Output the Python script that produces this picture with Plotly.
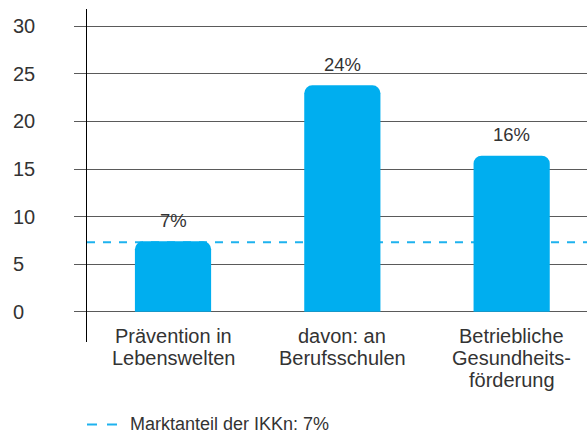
import plotly.graph_objects as go

# Share of IKK spending per field of prevention (percent)
categories = ["Prävention in<br>Lebenswelten", "davon: an<br>Berufsschulen", "Betriebliche<br>Gesundheits-<br>förderung"]
shares = [7.4, 23.8, 16.4]
market_share = 7.3
y_ticks = [0, 5, 10, 15, 20, 25, 30]

BAR_COLOR = "#00AEEF"
DASH_COLOR = "#1EB2EE"
GRID_COLOR = "#5a5a5a"
TEXT_COLOR = "#333333"
FONT = "Liberation Sans, Arial, Helvetica, sans-serif"
legend_label = f"Marktanteil der IKKn: {market_share:.0f}%"

fig = go.Figure()
fig.add_trace(go.Bar(
    x=categories, y=shares, width=0.45,
    marker=dict(color=BAR_COLOR, line=dict(width=0)),
    showlegend=False, hoverinfo="skip",
))

# IKK market share reference line
fig.add_shape(
    type="line", xref="paper", x0=0, x1=1, yref="y",
    y0=market_share, y1=market_share,
    line=dict(color=DASH_COLOR, width=2, dash="8px,8px"),
    layer="between",
)

# legend key for the reference line, below the chart
fig.add_shape(
    type="line", xref="paper", yref="paper",
    x0=0, x1=0.062, y0=-0.248, y1=-0.248,
    line=dict(color=DASH_COLOR, width=2, dash="10px,10px"),
)

annotations = [dict(
    x=0.082, y=-0.2455, xref="paper", yref="paper", text=legend_label,
    showarrow=False, xanchor="left", yanchor="middle",
    font=dict(size=18, color=TEXT_COLOR, family=FONT),
)]
# value labels above the bars
for cat, val in zip(categories, shares):
    annotations.append(dict(
        x=cat, y=val, xref="x", yref="y", text=f"{val:.0f}%",
        showarrow=False, yanchor="middle", yshift=21,
        font=dict(size=18.5, color=TEXT_COLOR, family=FONT),
    ))
# category labels below the baseline, one annotation per line
for cat in categories:
    for i, line in enumerate(cat.split("<br>")):
        annotations.append(dict(
            x=cat, y=0, xref="x", yref="y", text=line,
            showarrow=False, yanchor="middle", yshift=-24 - 22 * i,
            font=dict(size=20, color=TEXT_COLOR, family=FONT),
        ))
# left-aligned y tick labels
for t in y_ticks:
    annotations.append(dict(
        x=-0.152, y=t, xref="paper", yref="y", text=str(t),
        showarrow=False, xanchor="left", yanchor="middle",
        font=dict(size=20, color=TEXT_COLOR, family=FONT),
    ))

fig.update_layout(
    width=587, height=434, autosize=False,
    margin=dict(l=87, r=0, t=9, b=92),
    paper_bgcolor="white", plot_bgcolor="white",
    font=dict(family=FONT, color=TEXT_COLOR),
    barcornerradius=8,
    annotations=annotations,
    showlegend=False,
    xaxis=dict(
        type="category", range=[-0.508, 2.445],
        showticklabels=False, showgrid=False, zeroline=False, showline=False, ticks="",
    ),
    yaxis=dict(
        range=[-3.19, 31.83], tickvals=y_ticks, showticklabels=False,
        ticks="outside", ticklen=12, tickcolor=GRID_COLOR, tickwidth=1,
        showgrid=True, gridcolor=GRID_COLOR, gridwidth=1,
        zeroline=False, showline=True, linecolor="black", linewidth=1,
    ),
)

fig.write_html("out.html")
